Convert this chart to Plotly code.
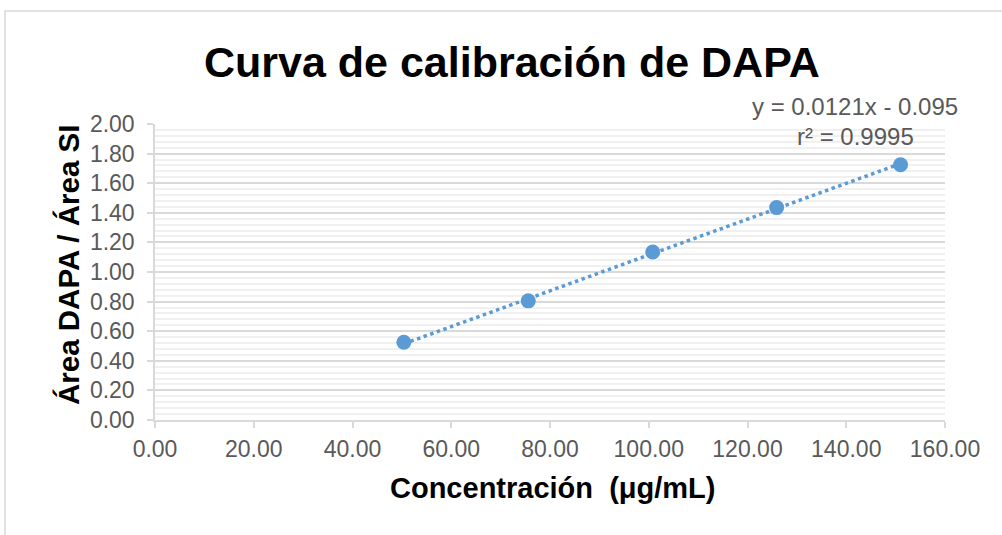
import plotly.graph_objects as go

# calibration data
concentracion = [50.4, 75.6, 100.8, 125.9, 151.0]
area_ratio = [0.525, 0.805, 1.135, 1.435, 1.725]
slope = 0.0121
intercept = -0.095
r2 = 0.9995
x_ticks = [0, 20, 40, 60, 80, 100, 120, 140, 160]
y_ticks = [0, 0.2, 0.4, 0.6, 0.8, 1.0, 1.2, 1.4, 1.6, 1.8, 2.0]

blue = '#5B9BD5'
grey_txt = '#595959'
grid = '#D9D9D9'
font = 'Liberation Sans, Arial, sans-serif'

# trend line over the data range
tx = [concentracion[0], concentracion[-1]]
ty = [slope * v + intercept for v in tx]

fig = go.Figure()
fig.add_trace(go.Scatter(x=tx, y=ty, mode='lines',
                         line=dict(color=blue, width=3.5, dash='3.5px,3.5px'),
                         hoverinfo='skip', showlegend=False))
fig.add_trace(go.Scatter(x=concentracion, y=area_ratio, mode='markers',
                         marker=dict(color=blue, size=15),
                         showlegend=False))

L, R, T, B = 155, 57, 124, 115
W, H = 1002, 535
pw, ph = W - L - R, H - T - B


def px(xp):
    return (xp - L) / pw


def py(yp):
    return (H - B - yp) / ph


def label(text, x, y, size, color, angle=0):
    return dict(text=text, xref='paper', yref='paper', x=px(x), y=py(y),
                xanchor='center', yanchor='middle', showarrow=False,
                textangle=angle, font=dict(size=size, color=color, family=font))


fig.update_layout(
    width=W, height=H,
    margin=dict(l=L, r=R, t=T, b=B),
    paper_bgcolor='white', plot_bgcolor='white',
    font=dict(family=font, color=grey_txt, size=23),
    xaxis=dict(range=[0, 160], tickvals=x_ticks,
               ticktext=[f'{v:.2f}' for v in x_ticks],
               showgrid=False, zeroline=False,
               showline=True, linecolor=grid, linewidth=1.5,
               ticks='outside', ticklen=6, tickcolor=grid, tickwidth=1.5,
               ticklabelstandoff=2,
               tickfont=dict(size=23, color=grey_txt)),
    yaxis=dict(range=[0, 2.0], tickvals=y_ticks,
               ticktext=[f'{v:.2f}' for v in y_ticks],
               showgrid=True, gridcolor=grid, gridwidth=1.5,
               zeroline=False,
               showline=True, linecolor=grid, linewidth=1.5,
               ticks='outside', ticklen=6, tickcolor=grid, tickwidth=1.5,
               ticklabelstandoff=8,
               tickfont=dict(size=23, color=grey_txt),
               minor=dict(dtick=0.04, showgrid=True, gridcolor='#F0F0F0',
                          gridwidth=1.5, ticks='')),
    annotations=[
        label('<b>Curva de calibración de DAPA</b>', 512, 62, 43, 'black'),
        label('<b>Concentración  (μg/mL)</b>', 552, 488, 29, 'black'),
        label('<b>Área DAPA / Área SI</b>', 68, 265, 29.5, 'black', angle=-90),
        label(f'y = {slope}x - {abs(intercept)}', 855, 106, 24, grey_txt),
        label(f'r² = {r2}', 855, 136, 24, grey_txt),
    ],
    shapes=[
        dict(type='rect', xref='paper', yref='paper',
             x0=px(5), x1=px(1010), y0=py(545), y1=py(11),
             line=dict(color=grid, width=1.5), layer='below'),
    ],
)

# drop the page margin so the figure sits at the window origin
fig.write_html('out.html', config={'displayModeBar': False},
               post_script="document.body.style.margin='0';")
